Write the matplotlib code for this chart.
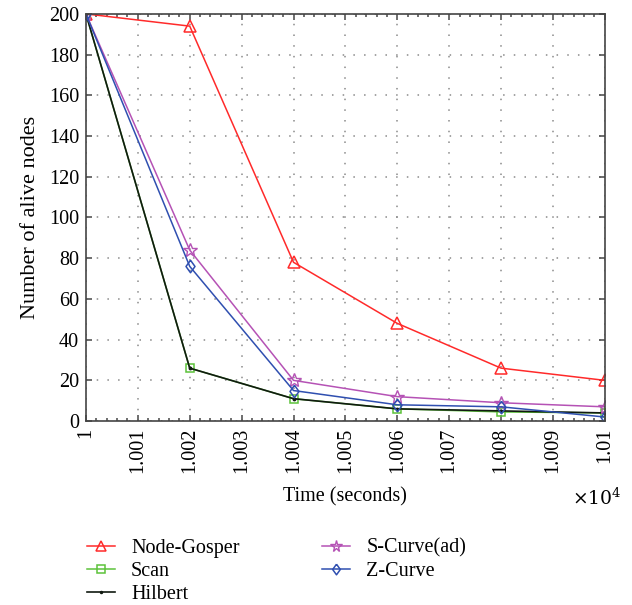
import matplotlib
matplotlib.use("Agg")
import matplotlib.pyplot as plt
from matplotlib.ticker import AutoMinorLocator, FixedLocator

# data (time in units of 1e4 s)
time = [1.000, 1.002, 1.004, 1.006, 1.008, 1.010]
node_gosper = [200, 194, 78, 48, 26, 20]
scan = [200, 26, 11, 6, 4.5, 4]
hilbert = [200, 26, 11, 6, 5, 4]
s_curve = [200, 84, 20, 12, 9, 7]
z_curve = [200, 76, 15, 8, 7, 2]

xticks = [1.000 + 0.001 * i for i in range(11)]
xtick_labels = ["1", "1.001", "1.002", "1.003", "1.004", "1.005",
                "1.006", "1.007", "1.008", "1.009", "1.01"]

# slightly tall diamond
TALL_DIAMOND = [(0, 1), (0.72, 0), (0, -1), (-0.72, 0), (0, 1)]


def main():
    plt.rcParams["font.family"] = ["Liberation Serif", "DejaVu Serif"]
    plt.rcParams["font.size"] = 14.5

    fig = plt.figure(figsize=(6.32, 6.05), dpi=100)
    ax = fig.add_axes([0.136, 0.304, 0.821, 0.673])

    ax.plot(time, node_gosper, color="#ff2a2a", lw=1.1, marker="^", ms=8,
            mfc="none", mec="#ff2a2a", mew=1.1, label="Node-Gosper")
    ax.plot(time, scan, color="#5cc23a", lw=1.1, marker="s", ms=6,
            mfc="none", mec="#5cc23a", mew=1.1, label="Scan")
    ax.plot(time, hilbert, color="#111a11", lw=1.2, marker=".", ms=3.5,
            label="Hilbert")
    ax.plot(time, s_curve, color="#b552b5", lw=1.1, marker="*", ms=10,
            mfc="none", mec="#b552b5", mew=1.0, label="S-Curve(ad)")
    ax.plot(time, z_curve, color="#2f4fb0", lw=1.1, marker=TALL_DIAMOND,
            ms=9, mfc="none", mec="#2f4fb0", mew=1.1, label="Z-Curve")

    ax.set_xlim(1.0, 1.01)
    ax.set_ylim(0, 200)
    ax.xaxis.set_major_locator(FixedLocator(xticks))
    ax.set_xticklabels(xtick_labels, rotation=90)
    ax.set_yticks(range(0, 201, 20))
    ax.xaxis.set_minor_locator(AutoMinorLocator(5))
    ax.tick_params(which="both", direction="in", top=True, right=True,
                   color="#555555", width=1.2)
    ax.tick_params(which="major", length=4.5, pad=5)
    ax.tick_params(which="minor", length=2)
    ax.grid(True, which="major", color="#8a8a8a",
            linestyle=(0, (1, 6)), lw=1.1)
    for s in ax.spines.values():
        s.set_color("#444444")
        s.set_linewidth(1.2)

    ax.set_ylabel("Number of alive nodes", fontsize=16, labelpad=6)
    ax.set_xlabel("Time (seconds)", labelpad=10)
    fig.text(0.905, 0.176, r"$\times 10^4$", ha="left", va="center",
             fontsize=13.5, family="DejaVu Serif",
             math_fontfamily="dejavuserif")

    fig.legend(loc="upper left", bbox_to_anchor=(0.115, 0.133), ncol=2,
               frameon=False, handlelength=1.4, columnspacing=4.1,
               labelspacing=0.2, handletextpad=0.8, borderpad=0.2,
               markerscale=0.85)

    fig.savefig("out.png", dpi=100)


if __name__ == "__main__":
    main()
